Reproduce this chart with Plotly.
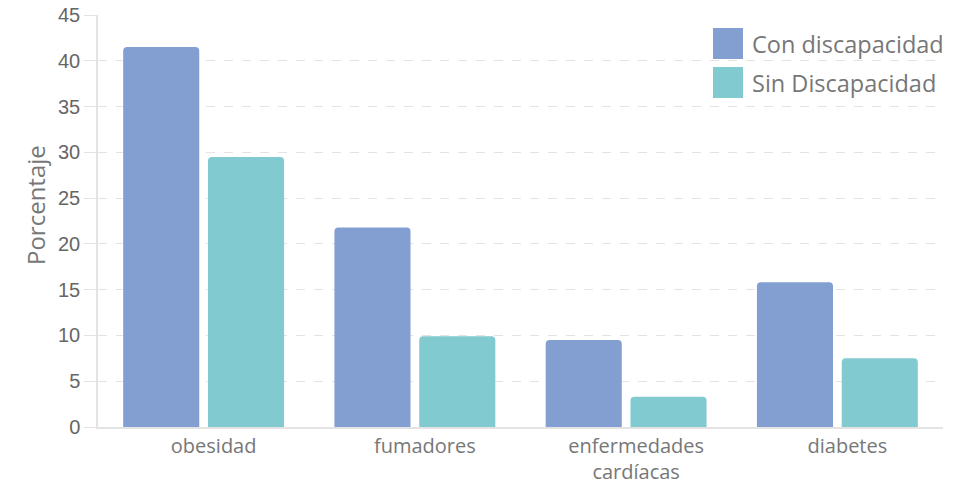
import plotly.graph_objects as go

categories = ["obesidad", "fumadores", "enfermedades<br>cardíacas", "diabetes"]
con_disc = [41.5, 21.8, 9.5, 15.8]
sin_disc = [29.5, 9.9, 3.3, 7.5]
series_names = ["Con discapacidad", "Sin Discapacidad"]
colors = ["#839fd1", "#81cbd0"]
y_ticks = [0, 5, 10, 15, 20, 25, 30, 35, 40, 45]

fig = go.Figure()
for name, vals, col in zip(series_names, [con_disc, sin_disc], colors):
    fig.add_trace(go.Bar(x=categories, y=vals, name=name, marker_color=col,
                         marker_line_width=0, showlegend=False))

W, H = 954, 484
L, R, T, B = 98, 11, 15, 57
pw, ph = W - L - R, H - T - B

def px_x(x):
    return (x - L) / pw

def px_y(y):
    return (H - B - y) / ph

shapes = []
annotations = []
legend_rows = [43.5, 82.5]
for name, col, cy in zip(series_names, colors, legend_rows):
    shapes.append(dict(type="rect", xref="paper", yref="paper",
                       x0=px_x(713), x1=px_x(743), y0=px_y(cy + 15.5), y1=px_y(cy - 15.5),
                       fillcolor=col, line_width=0, layer="above"))
    annotations.append(dict(text=name, xref="paper", yref="paper", x=px_x(750), y=px_y(cy),
                            xanchor="left", yanchor="middle", showarrow=False,
                            font=dict(family="Open Sans", size=23.5, color="#777777")))

annotations.append(dict(text="Porcentaje", xref="paper", yref="paper", x=px_x(35), y=px_y(205),
                        xanchor="center", yanchor="middle", textangle=-90, showarrow=False,
                        font=dict(family="Open Sans", size=24, color="#777777")))

fig.update_layout(
    template="none",
    width=W, height=H,
    margin=dict(l=L, r=R, t=T, b=B, pad=0, autoexpand=False),
    paper_bgcolor="white", plot_bgcolor="white",
    barmode="group", bargap=0.197, bargroupgap=0.103, barcornerradius=4,
    shapes=shapes, annotations=annotations,
    xaxis=dict(showgrid=False, showline=True, linecolor="#e3e3e3", linewidth=1.5,
               ticks="", automargin=False, zeroline=False, ticklabelshift=10,
               tickfont=dict(family="Open Sans", size=20, color="#777777")),
    yaxis=dict(range=[0, 45], tickvals=y_ticks, showgrid=True, gridcolor="#e3e3e3",
               griddash="dash", gridwidth=1, zeroline=False, automargin=False,
               showline=True, linecolor="#e3e3e3", linewidth=1.5,
               ticks="outside", ticklen=12, tickcolor="#e3e3e3",
               ticklabeloverflow="allow",
               tickfont=dict(family="Liberation Sans", size=20, color="#666666")),
)

fig.write_html("out.html",
               config={"displayModeBar": False},
               post_script="document.body.style.margin='0';document.body.style.overflow='hidden';")
